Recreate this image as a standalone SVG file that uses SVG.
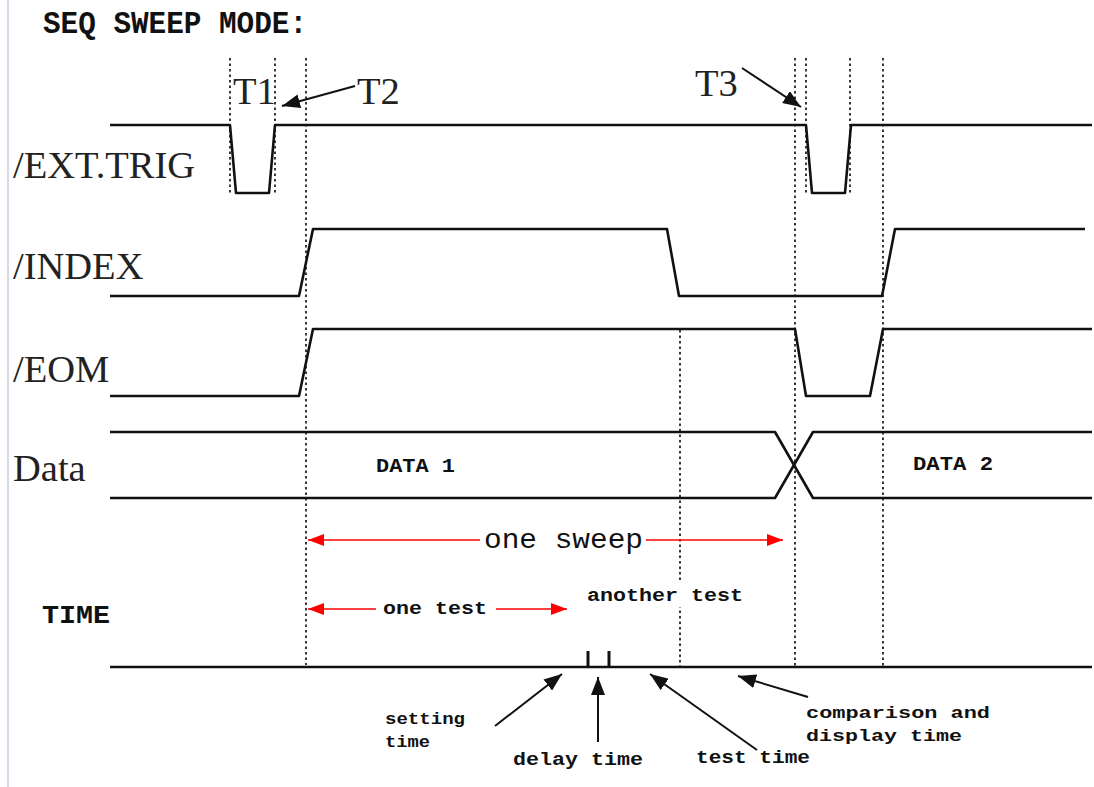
<svg xmlns="http://www.w3.org/2000/svg" width="1094" height="787" viewBox="0 0 1094 787">
<defs>
<style>
.sig{fill:none;stroke:#111;stroke-width:2.6;stroke-linejoin:round}
.dot{fill:none;stroke:#222;stroke-width:1.8;stroke-dasharray:2.5,3}
.lbl{font-family:"Liberation Serif","Times New Roman",serif;font-size:38.5px;fill:#222}
.mono{font-family:"Liberation Mono","Courier New",monospace;font-weight:bold;fill:#111}
.red{stroke:#f00;stroke-width:1.6;fill:none}
.blk{stroke:#111;stroke-width:2;fill:none}
</style>
<marker id="rh" viewBox="0 0 16 12" refX="16" refY="6" markerWidth="16" markerHeight="12" markerUnits="userSpaceOnUse" orient="auto">
<path d="M0,0 L16,6 L0,12 Z" fill="#f00"/>
</marker>
<marker id="bh" viewBox="0 0 18 14" refX="18" refY="7" markerWidth="18" markerHeight="14" markerUnits="userSpaceOnUse" orient="auto">
<path d="M0,0 L18,7 L0,14 Z" fill="#111"/>
</marker>
</defs>
<rect width="1094" height="787" fill="#fff"/>
<line x1="8" y1="0" x2="8" y2="787" stroke="#d4dae6" stroke-width="2"/>

<g id="title">
<text x="43" y="33" font-family="Liberation Mono, Courier New, monospace" font-weight="bold" font-size="32" fill="#111" textLength="264" lengthAdjust="spacingAndGlyphs">SEQ SWEEP MODE:</text>
</g>

<g id="guides">
<line class="dot" x1="230" y1="58" x2="230" y2="195"/>
<line class="dot" x1="275" y1="58" x2="275" y2="195"/>
<line class="dot" x1="306" y1="58" x2="306" y2="665"/>
<line class="dot" x1="795" y1="58" x2="795" y2="668"/>
<line class="dot" x1="806" y1="58" x2="806" y2="195"/>
<line class="dot" x1="850" y1="58" x2="850" y2="195"/>
<line class="dot" x1="883" y1="58" x2="883" y2="668"/>
<line class="dot" x1="680" y1="330" x2="680" y2="668"/>
</g>

<g id="ext-trig">
<text class="lbl" x="13" y="178">/EXT.TRIG</text>
<path class="sig" d="M110,125 H230 L236,193 H269 L275,125 H806 L812,193 H845 L851,125 H1092"/>
</g>

<g id="index">
<text class="lbl" x="13" y="279">/INDEX</text>
<path class="sig" d="M110,296 H299 L313,229 H667 L679,296 H882 L895,229 H1085"/>
</g>

<g id="eom">
<text class="lbl" x="13" y="382">/EOM</text>
<path class="sig" d="M110,396 H299 L313,329 H795 L806,396 H870 L883,329 H1092"/>
</g>

<g id="data">
<text class="lbl" x="13" y="481">Data</text>
<path class="sig" d="M110,432 H775 L813,498 H1092"/>
<path class="sig" d="M110,498 H775 L813,432 H1092"/>
<text class="mono" x="376" y="472" font-size="20" textLength="79" lengthAdjust="spacingAndGlyphs">DATA 1</text>
<text class="mono" x="913" y="470" font-size="20" textLength="80" lengthAdjust="spacingAndGlyphs">DATA 2</text>
</g>

<g id="t-labels">
<text class="lbl" x="233" y="104">T1</text>
<text class="lbl" x="357" y="104">T2</text>
<text class="lbl" x="695" y="96">T3</text>
</g>

<g id="connectors">
<line class="blk" x1="355" y1="86" x2="282" y2="106" marker-end="url(#bh)"/>
<line class="blk" x1="742" y1="68" x2="801" y2="107" marker-end="url(#bh)"/>
<line class="red" x1="480" y1="540" x2="308" y2="540" marker-end="url(#rh)"/>
<line class="red" x1="646" y1="540" x2="783" y2="540" marker-end="url(#rh)"/>
<line class="red" x1="376" y1="609" x2="308" y2="609" marker-end="url(#rh)"/>
<line class="red" x1="496" y1="609" x2="567" y2="609" marker-end="url(#rh)"/>
<line class="blk" x1="495" y1="726" x2="562" y2="674" marker-end="url(#bh)"/>
<line class="blk" x1="598" y1="742" x2="598" y2="677" marker-end="url(#bh)"/>
<line class="blk" x1="757" y1="750" x2="650" y2="674" marker-end="url(#bh)"/>
<line class="blk" x1="808" y1="697" x2="738" y2="676" marker-end="url(#bh)"/>
</g>

<g id="sweep-label">
<text x="484" y="548" font-family="Liberation Mono, Courier New, monospace" font-size="28" fill="#111" textLength="159" lengthAdjust="spacingAndGlyphs">one sweep</text>
</g>
<g id="test-labels">
<text class="mono" x="383" y="614" font-size="19" textLength="104" lengthAdjust="spacingAndGlyphs">one test</text>
<rect x="584" y="583" width="162" height="24" fill="#fff"/>
<text class="mono" x="587" y="601" font-size="19" textLength="156" lengthAdjust="spacingAndGlyphs">another test</text>
</g>

<g id="time">
<text class="mono" x="42" y="623" font-size="25" textLength="68" lengthAdjust="spacingAndGlyphs">TIME</text>
<line x1="110" y1="667" x2="1092" y2="667" stroke="#111" stroke-width="2.6"/>
<line x1="588" y1="651" x2="588" y2="667" stroke="#111" stroke-width="3"/>
<line x1="609" y1="651" x2="609" y2="667" stroke="#111" stroke-width="3"/>
</g>

<g id="time-labels">
<text class="mono" x="385" y="724" font-size="16" textLength="80" lengthAdjust="spacingAndGlyphs">setting</text>
<text class="mono" x="385" y="747" font-size="16" textLength="45" lengthAdjust="spacingAndGlyphs">time</text>
<text class="mono" x="513" y="765" font-size="18" textLength="130" lengthAdjust="spacingAndGlyphs">delay time</text>
<text class="mono" x="696" y="763" font-size="18" textLength="114" lengthAdjust="spacingAndGlyphs">test time</text>
<text class="mono" x="806" y="718" font-size="17" textLength="184" lengthAdjust="spacingAndGlyphs">comparison and</text>
<text class="mono" x="806" y="741" font-size="17" textLength="156" lengthAdjust="spacingAndGlyphs">display time</text>
</g>
</svg>
